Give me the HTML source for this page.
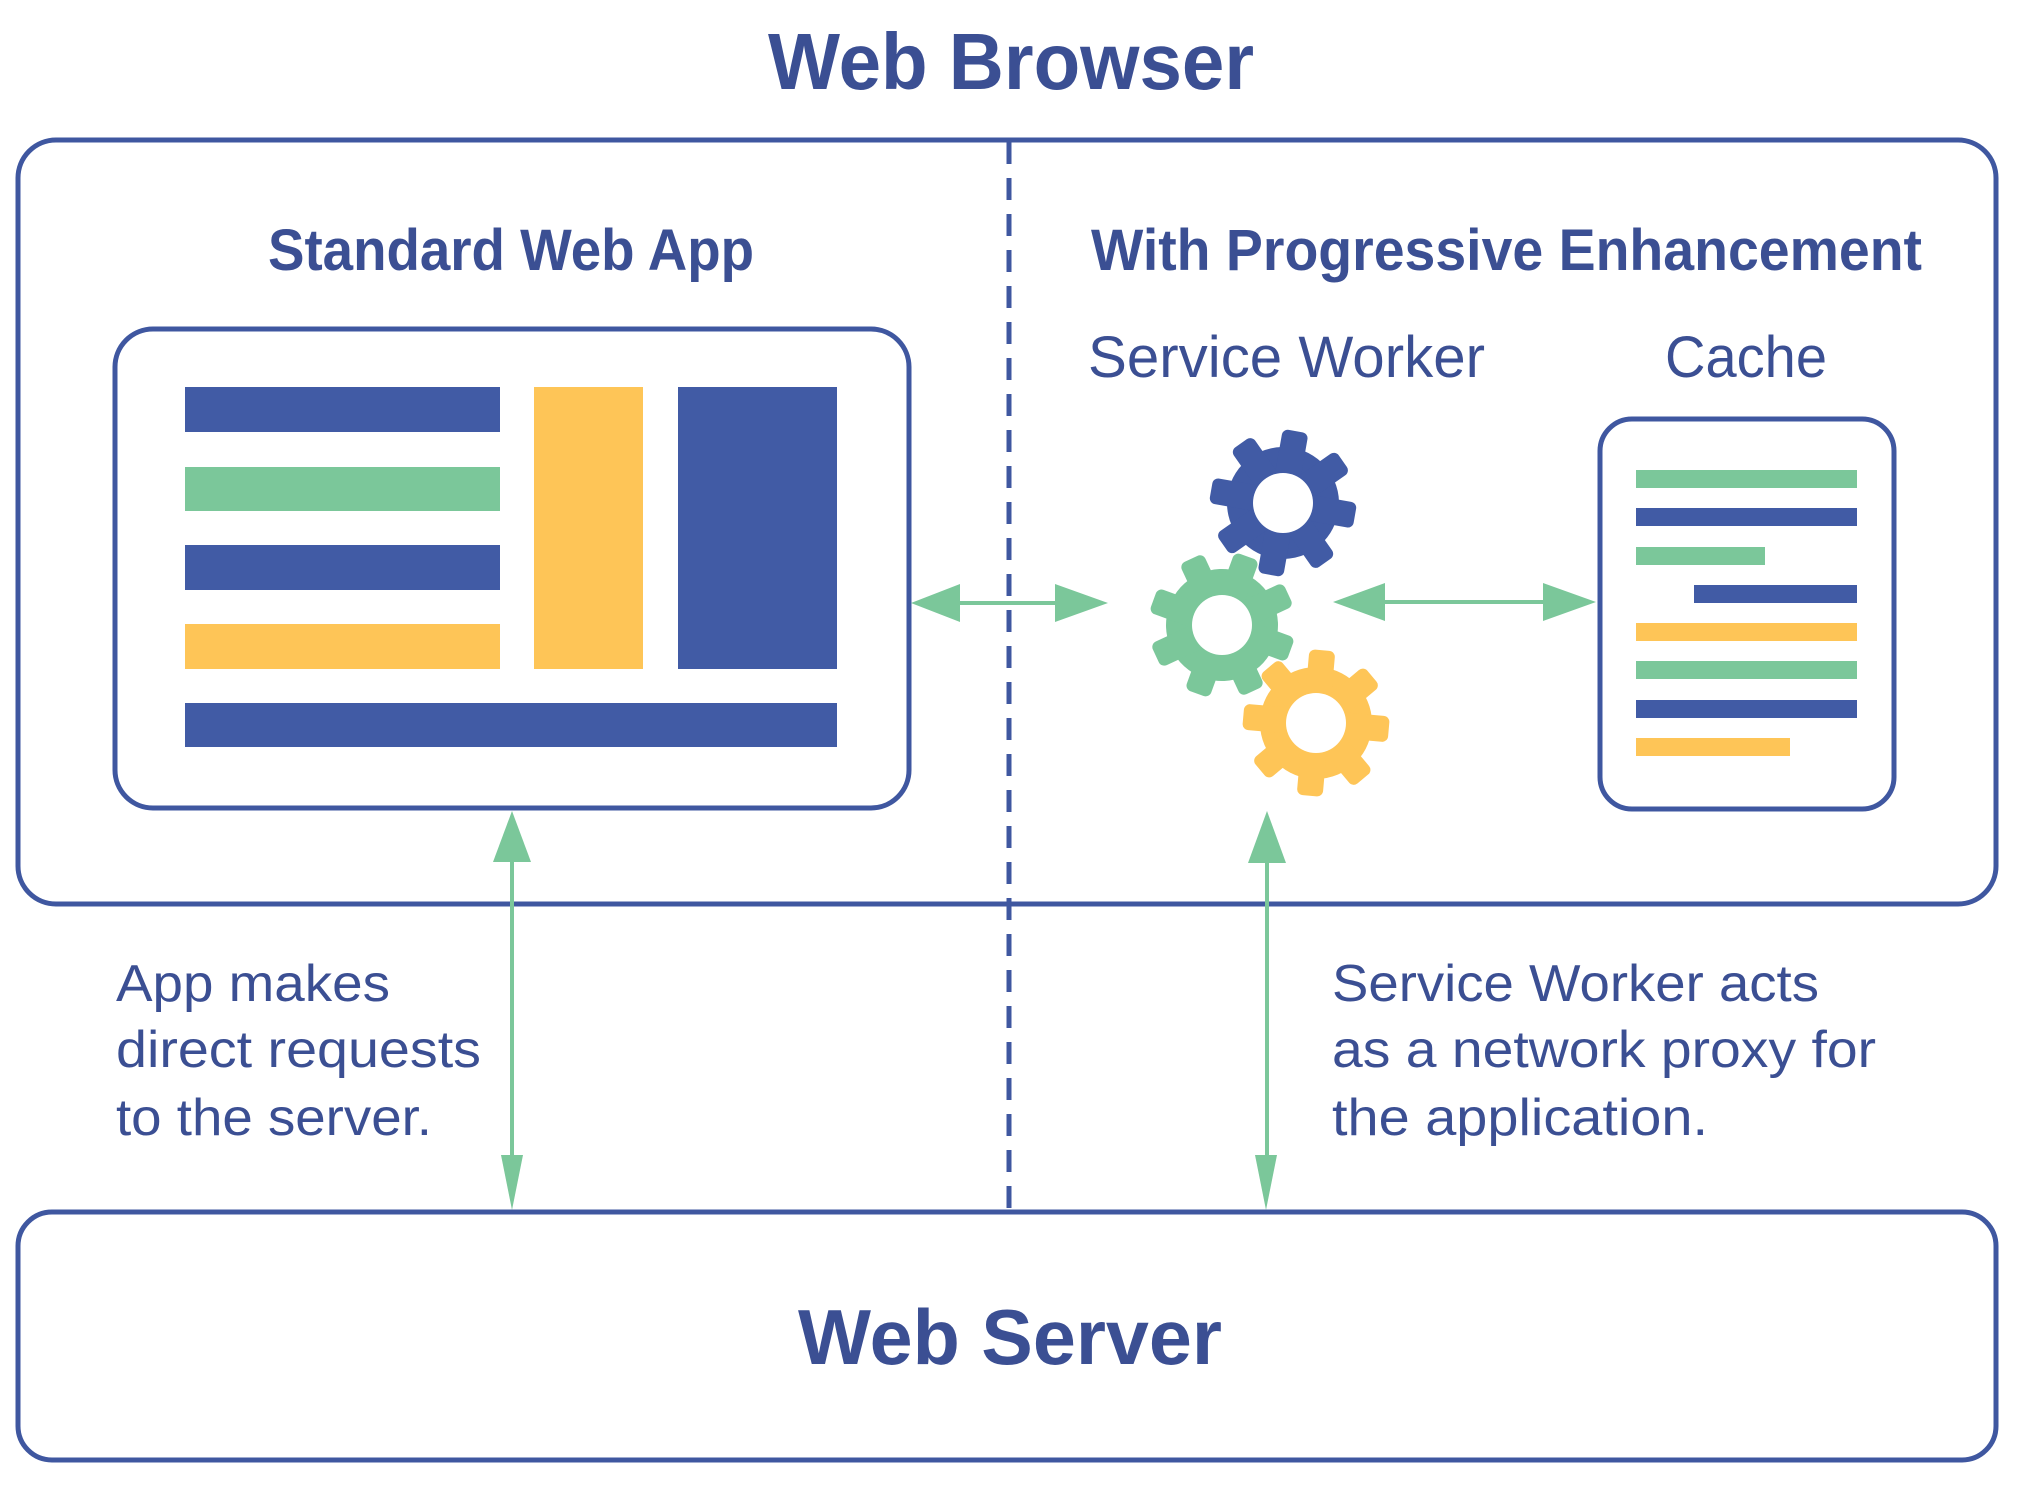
<!DOCTYPE html>
<html><head><meta charset="utf-8"><style>
html,body{margin:0;padding:0;background:#fff;}
svg{display:block;}
text{font-family:"Liberation Sans",sans-serif;fill:#3b4f93;}
</style></head><body>
<svg width="2022" height="1489" viewBox="0 0 2022 1489" xmlns="http://www.w3.org/2000/svg">
<defs>
<g id="gear">
  <circle r="56"/>
  <rect x="-13" y="-73" width="26" height="146" rx="6"/>
  <rect x="-13" y="-73" width="26" height="146" rx="6" transform="rotate(45)"/>
  <rect x="-13" y="-73" width="26" height="146" rx="6" transform="rotate(90)"/>
  <rect x="-13" y="-73" width="26" height="146" rx="6" transform="rotate(135)"/>
</g>
</defs>
<text x="1011" y="89" font-size="80" font-weight="bold" text-anchor="middle" textLength="486" lengthAdjust="spacingAndGlyphs">Web Browser</text>
<rect x="18" y="140" width="1978" height="764" rx="38" fill="none" stroke="#3f57a0" stroke-width="5"/>
<line x1="1009" y1="142" x2="1009" y2="1210" stroke="#3f57a0" stroke-width="5" stroke-dasharray="22 14"/>
<text x="268" y="270" font-size="58" font-weight="bold" textLength="486" lengthAdjust="spacingAndGlyphs">Standard Web App</text>
<text x="1091" y="270" font-size="58" font-weight="bold" textLength="831" lengthAdjust="spacingAndGlyphs">With Progressive Enhancement</text>
<text x="1088" y="377" font-size="58" textLength="397" lengthAdjust="spacingAndGlyphs">Service Worker</text>
<text x="1665" y="377" font-size="58" textLength="162" lengthAdjust="spacingAndGlyphs">Cache</text>
<rect x="115" y="329" width="794" height="479" rx="38" fill="none" stroke="#3f57a0" stroke-width="5"/>
<rect x="185" y="387" width="315" height="45" fill="#415ba5"/>
<rect x="185" y="467" width="315" height="44" fill="#7bc79a"/>
<rect x="185" y="545" width="315" height="45" fill="#415ba5"/>
<rect x="185" y="624" width="315" height="45" fill="#fec557"/>
<rect x="534" y="387" width="109" height="282" fill="#fec557"/>
<rect x="678" y="387" width="159" height="282" fill="#415ba5"/>
<rect x="185" y="703" width="652" height="44" fill="#415ba5"/>
<rect x="1600" y="419" width="294" height="390" rx="32" fill="none" stroke="#3f57a0" stroke-width="5"/>
<rect x="1636" y="470" width="221" height="18" fill="#7bc79a"/>
<rect x="1636" y="508" width="221" height="18" fill="#415ba5"/>
<rect x="1636" y="547" width="129" height="18" fill="#7bc79a"/>
<rect x="1694" y="585" width="163" height="18" fill="#415ba5"/>
<rect x="1636" y="623" width="221" height="18" fill="#fec557"/>
<rect x="1636" y="661" width="221" height="18" fill="#7bc79a"/>
<rect x="1636" y="700" width="221" height="18" fill="#415ba5"/>
<rect x="1636" y="738" width="154" height="18" fill="#fec557"/>
<g transform="translate(1283,503) rotate(10)" fill="#415ba5"><use href="#gear"/></g>
<circle cx="1283" cy="503" r="30" fill="#fff"/>
<g transform="translate(1222,625) rotate(20)" fill="#7bc79a"><use href="#gear"/></g>
<circle cx="1222" cy="625" r="30" fill="#fff"/>
<g transform="translate(1316,723) rotate(5)" fill="#fec557"><use href="#gear"/></g>
<circle cx="1316" cy="723" r="30" fill="#fff"/>
<g stroke="#7bc79a" stroke-width="4" fill="none">
<line x1="950" y1="603" x2="1060" y2="603"/>
<line x1="1380" y1="602" x2="1550" y2="602"/>
<line x1="512" y1="860" x2="512" y2="1160"/>
<line x1="1267" y1="860" x2="1267" y2="1160"/>
</g>
<g fill="#7bc79a">
<polygon points="911,603 960,584 960,622"/>
<polygon points="1108,603 1055,584 1055,622"/>
<polygon points="1333,602 1385,583 1385,621"/>
<polygon points="1596,602 1543,583 1543,621"/>
<polygon points="512,811 493,862 531,862"/>
<polygon points="1267,811 1248,863 1286,863"/>
<polygon points="512,1210 501,1155 523,1155"/>
<polygon points="1266,1210 1255,1155 1277,1155"/>
</g>
<text font-size="52" x="116" y="1001" textLength="274" lengthAdjust="spacingAndGlyphs">App makes</text>
<text font-size="52" x="116" y="1067" textLength="365" lengthAdjust="spacingAndGlyphs">direct requests</text>
<text font-size="52" x="116" y="1135" textLength="316" lengthAdjust="spacingAndGlyphs">to the server.</text>
<text font-size="52" x="1332" y="1001" textLength="487" lengthAdjust="spacingAndGlyphs">Service Worker acts</text>
<text font-size="52" x="1332" y="1067" textLength="544" lengthAdjust="spacingAndGlyphs">as a network proxy for</text>
<text font-size="52" x="1332" y="1135" textLength="376" lengthAdjust="spacingAndGlyphs">the application.</text>
<rect x="18" y="1212" width="1978" height="248" rx="34" fill="none" stroke="#3f57a0" stroke-width="5"/>
<text x="1010" y="1364" font-size="78" font-weight="bold" text-anchor="middle" textLength="424" lengthAdjust="spacingAndGlyphs">Web Server</text>
</svg>
</body></html>
